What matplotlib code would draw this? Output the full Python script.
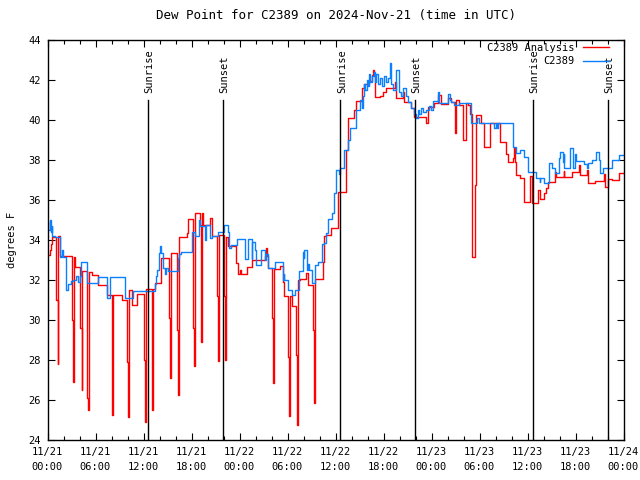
import matplotlib
matplotlib.use("Agg")
import matplotlib.pyplot as plt

# hours since 2024-11-21 00:00 UTC
obs_t = [0.0, 0.1, 0.25, 0.4, 0.5, 0.6, 0.9, 1.5, 1.75, 1.9, 2.3, 2.6, 2.9, 3.2, 3.6, 3.75,
         4.0, 4.15, 4.9, 6.3, 7.4, 7.8, 9.7, 10.7, 13.4, 13.6, 13.7, 13.9, 14.05, 14.2, 14.4,
         14.7, 14.8, 15.05, 16.3, 16.4, 16.7, 18.1, 18.4, 18.9, 19.1, 19.7, 19.8, 20.3, 20.6,
         21.3, 22.0, 22.6, 22.7, 22.9, 23.7, 24.7, 25.1, 25.5, 25.6, 25.9, 26.0, 26.7, 27.2,
         27.3, 27.5, 27.6, 28.4, 29.4, 29.5, 29.6, 30.0, 30.5, 30.9, 31.4, 31.9, 32.0, 32.1,
         32.4, 32.6, 32.7, 33.1, 33.4, 33.75, 34.25, 34.5, 34.75, 35.0, 35.1, 35.6, 35.75,
         36.1, 36.4, 36.6, 37.1, 37.5, 37.8, 38.5, 39.1, 39.3, 39.4, 39.5, 39.65, 39.9, 40.0,
         40.15, 40.3, 40.5, 40.8, 40.9, 41.0, 41.3, 41.5, 41.8, 42.0, 42.3, 42.5, 42.8, 42.9,
         43.2, 43.5, 43.9, 44.2, 44.4, 44.8, 45.0, 45.4, 45.8, 46.05, 46.3, 46.4, 46.7, 46.9,
         47.3, 47.7, 47.9, 48.2, 48.8, 48.9, 50.1, 50.3, 50.4, 50.8, 51.4, 52.9, 53.7, 53.95,
         55.8, 56.1, 56.2, 56.3, 58.2, 58.6, 59.1, 59.6, 60.0, 61.1, 61.5, 61.6, 62.0, 62.7,
         63.0, 63.4, 63.9, 64.1, 64.4, 64.5, 64.6, 65.3, 65.7, 65.9, 66.1, 67.0, 67.4, 67.5,
         68.0, 68.6, 68.9, 69.1, 69.4, 70.5, 71.4, 72.0]
obs_v = [34.9, 34.5, 35.0, 34.4, 34.7, 34.2, 34.15, 33.15, 33.5, 33.15, 31.5, 31.8, 31.95, 32.0,
         32.2, 31.9, 32.2, 32.9, 31.85, 32.15, 31.1, 32.15, 31.1, 31.45, 31.8, 32.2, 32.5, 33.35,
         33.7, 33.35, 32.6, 32.3, 32.6, 32.45, 33.1, 33.3, 33.4, 34.4, 34.2, 35.0, 34.7, 34.0,
         34.75, 34.1, 34.2, 34.4, 34.75, 34.4, 33.6, 33.75, 34.05, 33.05, 34.05, 33.05, 33.9,
         33.5, 32.75, 33.5, 33.0, 33.3, 32.9, 32.6, 32.9, 32.0, 32.3, 32.0, 31.5, 31.25, 31.5,
         32.45, 33.4, 33.1, 33.5, 32.5, 32.8, 32.5, 31.85, 32.75, 32.9, 33.8, 33.85, 34.35, 34.6,
         35.05, 35.35, 36.35, 37.5, 37.3, 37.6, 38.5, 39.0, 39.6, 40.5, 41.0, 40.6, 41.2, 41.8,
         41.5, 42.0, 41.7, 42.3, 41.9, 42.2, 42.4, 41.9, 42.3, 41.8, 42.1, 41.7, 42.2, 41.9,
         42.1, 42.85, 41.8, 41.5, 42.5, 41.4, 41.2, 41.6, 41.2, 40.9, 40.6, 40.3, 40.1, 40.5,
         40.3, 40.6, 40.4, 40.5, 40.7, 40.5, 40.95, 41.4, 40.85, 41.3, 41.0, 40.9, 40.75, 40.85,
         39.85, 40.1, 39.85, 39.6, 39.85, 39.6, 39.85, 38.65, 38.35, 38.5, 38.15, 37.4, 37.1,
         36.9, 37.1, 36.85, 37.85, 37.6, 37.35, 38.1, 38.4, 37.9, 38.3, 37.6, 38.6, 37.6, 38.3,
         37.95, 37.8, 37.6, 37.85, 38.0, 38.4, 38.0, 37.35, 37.6, 38.0, 38.25, 38.25]

ana_t = [0.0, 0.25, 0.4, 0.5, 1.1, 1.25, 1.35, 1.5, 3.0, 3.15, 3.25, 3.4, 4.1, 4.25, 4.35,
         4.9, 5.1, 5.2, 5.5, 6.3, 7.4, 8.0, 8.1, 8.2, 9.3, 9.9, 10.05, 10.15, 10.5, 11.2,
         12.1, 12.2, 12.3, 13.0, 13.1, 13.2, 13.4, 14.2, 15.2, 15.3, 15.4, 16.2, 16.3, 16.4,
         17.45, 17.55, 18.2, 18.3, 18.4, 19.1, 19.2, 19.3, 19.45, 20.3, 20.6, 21.2, 21.3,
         21.4, 22.1, 22.2, 22.35, 22.6, 23.5, 23.85, 24.1, 24.2, 24.95, 25.5, 27.2, 27.3,
         27.4, 27.6, 28.1, 28.2, 28.3, 29.1, 29.4, 29.5, 30.1, 30.2, 30.3, 30.5, 31.1, 31.2,
         31.35, 31.5, 32.25, 32.5, 33.2, 33.3, 33.45, 34.4, 34.5, 34.75, 35.4, 36.25, 37.25,
         37.5, 38.25, 38.5, 39.3, 39.5, 40.15, 40.5, 40.65, 40.8, 40.9, 41.5, 41.9, 42.3,
         43.4, 43.5, 44.4, 44.5, 45.4, 45.8, 47.3, 47.55, 48.3, 48.8, 49.2, 50.1, 50.4,
         50.95, 51.05, 51.4, 51.95, 52.35, 52.6, 52.8, 53.0, 53.1, 53.45, 53.6, 54.2, 54.6,
         55.35, 56.6, 57.3, 57.6, 58.2, 58.35, 58.45, 58.6, 59.1, 59.5, 59.6, 60.35, 60.6,
         61.35, 61.5, 62.1, 62.35, 62.6, 63.4, 63.6, 64.5, 64.6, 65.5, 66.4, 66.5, 67.4,
         67.6, 68.4, 69.5, 69.65, 70.1, 70.5, 71.4, 72.0]
ana_v = [33.25, 33.5, 33.8, 34.15, 31.0, 27.8, 34.2, 33.2, 30.0, 26.9, 33.15, 32.65, 29.6,
         26.5, 32.45, 26.1, 25.5, 32.4, 32.25, 31.75, 31.25, 28.3, 25.25, 31.25, 31.0, 27.9,
         25.15, 31.5, 30.75, 31.3, 28.0, 24.9, 31.55, 29.0, 25.5, 31.55, 31.85, 33.1, 30.1,
         27.1, 33.35, 29.5, 26.25, 34.15, 34.35, 35.05, 29.6, 27.7, 35.35, 34.75, 28.9, 35.35,
         34.75, 35.1, 34.2, 31.2, 27.95, 34.25, 31.2, 28.0, 34.15, 33.7, 32.85, 32.3, 32.5,
         32.3, 32.65, 33.0, 33.2, 33.6, 33.2, 32.6, 30.1, 26.85, 32.55, 32.7, 31.9, 31.2,
         28.15, 25.2, 31.2, 30.7, 28.25, 24.75, 32.0, 32.05, 32.35, 31.75, 29.5, 25.85, 32.05,
         32.9, 34.2, 34.25, 34.6, 36.4, 38.5, 40.1, 40.5, 40.95, 41.6, 41.8, 41.95, 42.25,
         42.5, 42.25, 41.15, 41.2, 41.4, 41.6, 41.9, 41.1, 41.4, 40.9, 40.6, 40.15, 39.85,
         40.65, 40.85, 41.25, 40.8, 41.1, 40.9, 39.35, 41.0, 40.75, 39.0, 40.85, 40.75, 40.3,
         36.75, 33.15, 36.75, 40.25, 39.85, 38.65, 39.85, 38.9, 38.3, 37.9, 38.1, 38.6, 37.9,
         37.25, 37.1, 36.0, 35.9, 37.2, 35.85, 36.5, 36.05, 36.35, 36.6, 36.9, 37.4, 37.15,
         37.45, 37.15, 37.4, 37.75, 37.25, 37.5, 36.85, 36.95, 37.3, 36.65, 37.05, 37.0,
         37.35, 37.35]

sun_t = [12.55, 21.95, 36.6, 45.9, 60.7, 70.0]
sun_lbl = ["Sunrise", "Sunset", "Sunrise", "Sunset", "Sunrise", "Sunset"]

xtick_pos = [0, 6, 12, 18, 24, 30, 36, 42, 48, 54, 60, 66, 72]
xtick_lbl = ["11/21\n00:00", "11/21\n06:00", "11/21\n12:00", "11/21\n18:00",
             "11/22\n00:00", "11/22\n06:00", "11/22\n12:00", "11/22\n18:00",
             "11/23\n00:00", "11/23\n06:00", "11/23\n12:00", "11/23\n18:00",
             "11/24\n00:00"]

plt.rcParams['font.family'] = ['DejaVu Sans Mono']
plt.rcParams['font.size'] = 7.5

fig = plt.figure(figsize=(6.4, 4.8), dpi=100)
ax = fig.add_axes([47.5 / 640, 40 / 480, 576 / 640, 400 / 480])

ax.plot(ana_t, ana_v, drawstyle='steps-post', color='#ff0000', lw=1.0, label='C2389 Analysis')
ax.plot(obs_t, obs_v, drawstyle='steps-post', color='#0a80ff', lw=1.0, label='C2389')

for t, s in zip(sun_t, sun_lbl):
    ax.plot([t, t], [24, 41], color='black', lw=1.0)
    ax.text(t + 0.2, 41.35, s, rotation=90, ha='center', va='bottom')

ax.set_xlim(0, 72)
ax.set_ylim(24, 44)
ax.set_xticks(xtick_pos)
ax.set_xticklabels(xtick_lbl, linespacing=1.6)
ax.set_xticks(range(0, 73, 2), minor=True)
ax.set_yticks(range(24, 45, 2))
ax.tick_params(which='both', direction='in', top=True, right=True, width=0.8)
ax.tick_params(which='major', length=5, pad=5)
ax.tick_params(which='minor', length=3)
for sp in ax.spines.values():
    sp.set_linewidth(1.0)

ax.set_ylabel('degrees F', labelpad=8)
ax.set_title('Dew Point for C2389 on 2024-Nov-21 (time in UTC)', pad=15)

ax.legend(loc='upper right', bbox_to_anchor=(0.9826, 1.004), frameon=False,
          markerfirst=False, handlelength=2.5, borderaxespad=0, labelspacing=0.35,
          handletextpad=0.8)

fig.savefig('out.png', dpi=100)
